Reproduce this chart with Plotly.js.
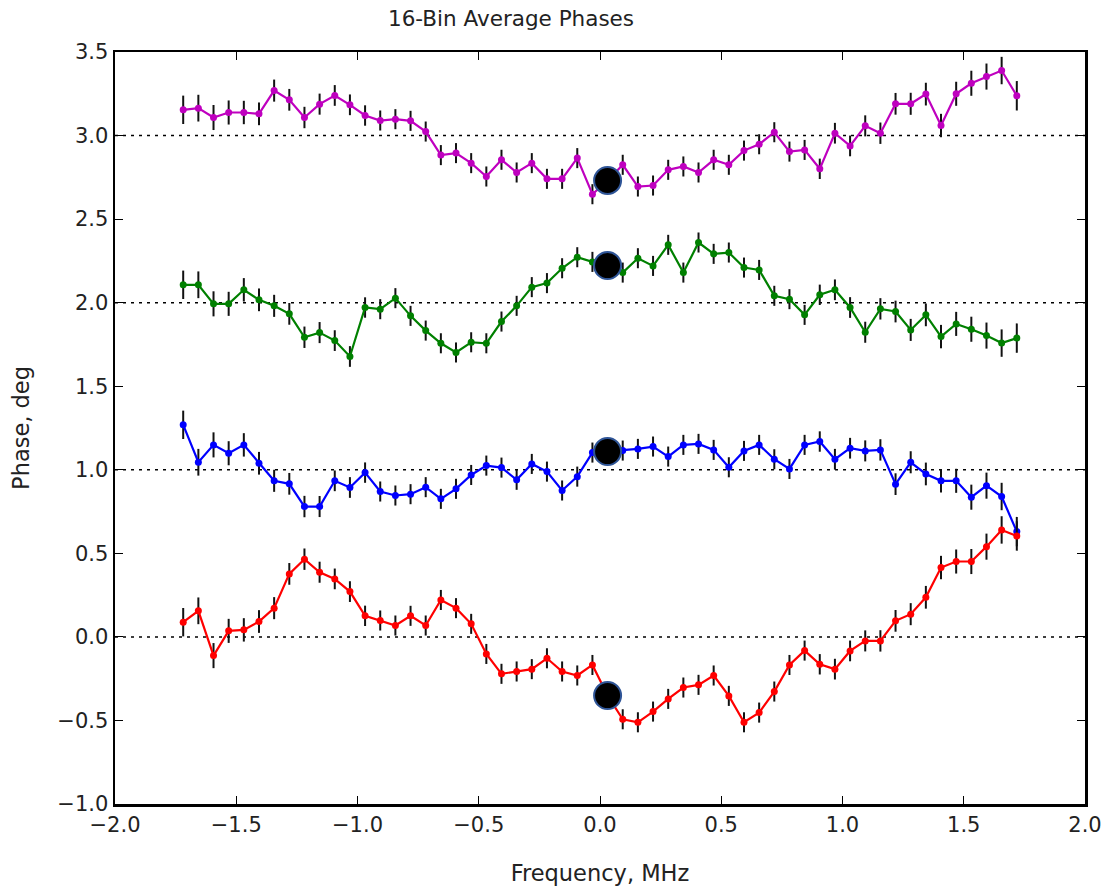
<!DOCTYPE html>
<html>
<head>
<meta charset="utf-8">
<script src="https://cdn.plot.ly/plotly-3.0.1.min.js"></script>
<style>
  html, body { margin: 0; padding: 0; background: #ffffff; }
  #chart { width: 1104px; height: 887px; }
</style>
</head>
<body>
<div id="chart"></div>
<script>
// Frequency bins (MHz)
const freqMHz = [
  -1.71875, -1.65625, -1.59375, -1.53125, -1.46875, -1.40625, -1.34375, -1.28125,
  -1.21875, -1.15625, -1.09375, -1.03125, -0.96875, -0.90625, -0.84375, -0.78125,
  -0.71875, -0.65625, -0.59375, -0.53125, -0.46875, -0.40625, -0.34375, -0.28125,
  -0.21875, -0.15625, -0.09375, -0.03125, 0.03125, 0.09375, 0.15625, 0.21875,
  0.28125, 0.34375, 0.40625, 0.46875, 0.53125, 0.59375, 0.65625, 0.71875,
  0.78125, 0.84375, 0.90625, 0.96875, 1.03125, 1.09375, 1.15625, 1.21875,
  1.28125, 1.34375, 1.40625, 1.46875, 1.53125, 1.59375, 1.65625, 1.71875
];

// Phase series (deg)
const magentaPhase = [
  3.154, 3.164, 3.108, 3.138, 3.138, 3.130, 3.269, 3.214, 3.108, 3.188,
  3.240, 3.184, 3.120, 3.090, 3.098, 3.088, 3.024, 2.883, 2.895, 2.835,
  2.755, 2.855, 2.779, 2.835, 2.741, 2.741, 2.865, 2.649, 2.730, 2.825,
  2.695, 2.701, 2.795, 2.815, 2.779, 2.855, 2.825, 2.910, 2.948, 3.020,
  2.904, 2.914, 2.801, 3.014, 2.938, 3.058, 3.014, 3.190, 3.190, 3.248,
  3.060, 3.250, 3.313, 3.353, 3.389, 3.238
];
const greenPhase = [
  2.107, 2.107, 1.993, 1.993, 2.077, 2.017, 1.981, 1.933, 1.793, 1.821,
  1.773, 1.678, 1.971, 1.961, 2.027, 1.921, 1.833, 1.757, 1.702, 1.763,
  1.757, 1.887, 1.981, 2.093, 2.117, 2.206, 2.272, 2.244, 2.222, 2.180,
  2.266, 2.220, 2.346, 2.180, 2.360, 2.292, 2.300, 2.210, 2.196, 2.041,
  2.021, 1.927, 2.047, 2.077, 1.971, 1.823, 1.963, 1.947, 1.837, 1.927,
  1.797, 1.873, 1.841, 1.803, 1.758, 1.788
];
const bluePhase = [
  1.269, 1.045, 1.149, 1.099, 1.149, 1.039, 0.934, 0.916, 0.780, 0.780,
  0.934, 0.894, 0.983, 0.870, 0.846, 0.854, 0.896, 0.826, 0.886, 0.969,
  1.025, 1.013, 0.940, 1.035, 0.989, 0.876, 0.959, 1.103, 1.109, 1.115,
  1.125, 1.139, 1.079, 1.149, 1.155, 1.119, 1.015, 1.113, 1.149, 1.063,
  1.005, 1.149, 1.169, 1.063, 1.129, 1.113, 1.119, 0.914, 1.045, 0.975,
  0.934, 0.934, 0.836, 0.905, 0.840, 0.630
];
const redPhase = [
  0.088, 0.156, -0.112, 0.036, 0.042, 0.092, 0.172, 0.377, 0.465, 0.387,
  0.347, 0.271, 0.126, 0.098, 0.068, 0.126, 0.068, 0.221, 0.172, 0.078,
  -0.102, -0.221, -0.207, -0.193, -0.128, -0.207, -0.231, -0.168, -0.351, -0.493,
  -0.511, -0.447, -0.371, -0.303, -0.287, -0.231, -0.353, -0.511, -0.453, -0.327,
  -0.168, -0.082, -0.164, -0.193, -0.084, -0.024, -0.024, 0.096, 0.136, 0.237,
  0.415, 0.451, 0.451, 0.540, 0.640, 0.604
];

// Error bar half-lengths (deg), shared by all series
const phaseErr = [
  0.085, 0.080, 0.075, 0.072, 0.070, 0.068, 0.066, 0.065, 0.064, 0.063,
  0.062, 0.062, 0.061, 0.060, 0.060, 0.060, 0.060, 0.060, 0.060, 0.060,
  0.060, 0.060, 0.060, 0.060, 0.060, 0.060, 0.060, 0.060, 0.060, 0.060,
  0.060, 0.060, 0.060, 0.060, 0.060, 0.060, 0.060, 0.060, 0.060, 0.060,
  0.060, 0.060, 0.061, 0.062, 0.062, 0.063, 0.064, 0.065, 0.066, 0.068,
  0.070, 0.072, 0.075, 0.078, 0.082, 0.088
];

// Large black markers at the band centre
const centreFreq = [0.03125, 0.03125, 0.03125, 0.03125];
const centrePhase = [2.731, 2.222, 1.109, -0.351];

// Reference levels drawn as dotted lines
const refLevels = [0, 1, 2, 3];

const seriesNames = ['magenta', 'green', 'blue', 'red'];
const seriesData = [magentaPhase, greenPhase, bluePhase, redPhase];
const seriesColors = ['#bf00bf', '#008000', '#0000ff', '#ff0000'];

const traces = seriesData.map((ys, k) => ({
  type: 'scatter',
  mode: 'lines+markers',
  name: seriesNames[k],
  x: freqMHz,
  y: ys,
  line: { color: seriesColors[k], width: 2.2 },
  marker: { color: seriesColors[k], size: 7 },
  error_y: { type: 'data', array: phaseErr, visible: true, color: '#111111', thickness: 2, width: 0 },
  hoverinfo: 'x+y'
}));

traces.push({
  type: 'scatter',
  mode: 'markers',
  name: 'centre',
  x: centreFreq,
  y: centrePhase,
  marker: { color: '#000000', size: 27, line: { color: '#2f5597', width: 2 } }
});

const shapes = refLevels.map(v => ({
  type: 'line', xref: 'paper', x0: 0, x1: 1, yref: 'y', y0: v, y1: v,
  line: { color: '#000000', width: 1.5, dash: '3px,5px' },
  layer: 'below'
}));

const fontFam = 'DejaVu Sans, Liberation Sans, Arial, sans-serif';

const layout = {
  width: 1104,
  height: 887,
  margin: { l: 115, r: 19, t: 52, b: 83 },
  paper_bgcolor: '#ffffff',
  plot_bgcolor: '#ffffff',
  showlegend: false,
  font: { family: fontFam, size: 21, color: '#222222' },
  title: {
    text: '16-Bin Average Phases',
    font: { family: fontFam, size: 21.5, color: '#222222' },
    x: 511 / 1104, xanchor: 'center',
    y: 1 - 18 / 887, yref: 'container', yanchor: 'middle'
  },
  xaxis: {
    range: [-2, 2],
    dtick: 0.5,
    tick0: 0,
    tickformat: '.1f',
    showgrid: false,
    zeroline: false,
    showline: true,
    linecolor: '#000000',
    linewidth: 2.5,
    mirror: 'ticks',
    ticks: 'inside',
    ticklen: 8,
    tickwidth: 1,
    tickcolor: '#000000',
    tickfont: { family: fontFam, size: 21, color: '#222222' },
    title: { text: 'Frequency, MHz', font: { family: fontFam, size: 22.5, color: '#222222' }, standoff: 30 },
    automargin: false
  },
  yaxis: {
    range: [-1, 3.5],
    dtick: 0.5,
    tick0: 0,
    tickformat: '.1f',
    showgrid: false,
    zeroline: false,
    showline: true,
    linecolor: '#000000',
    linewidth: 2.5,
    mirror: 'ticks',
    ticks: 'inside',
    ticklen: 8,
    tickwidth: 1,
    tickcolor: '#000000',
    tickfont: { family: fontFam, size: 21, color: '#222222' },
    title: { text: 'Phase, deg', font: { family: fontFam, size: 22.5, color: '#222222' }, standoff: 22 },
    automargin: false
  },
  shapes: shapes
};

Plotly.newPlot('chart', traces, layout, { displayModeBar: false, staticPlot: true });
</script>
</body>
</html>
